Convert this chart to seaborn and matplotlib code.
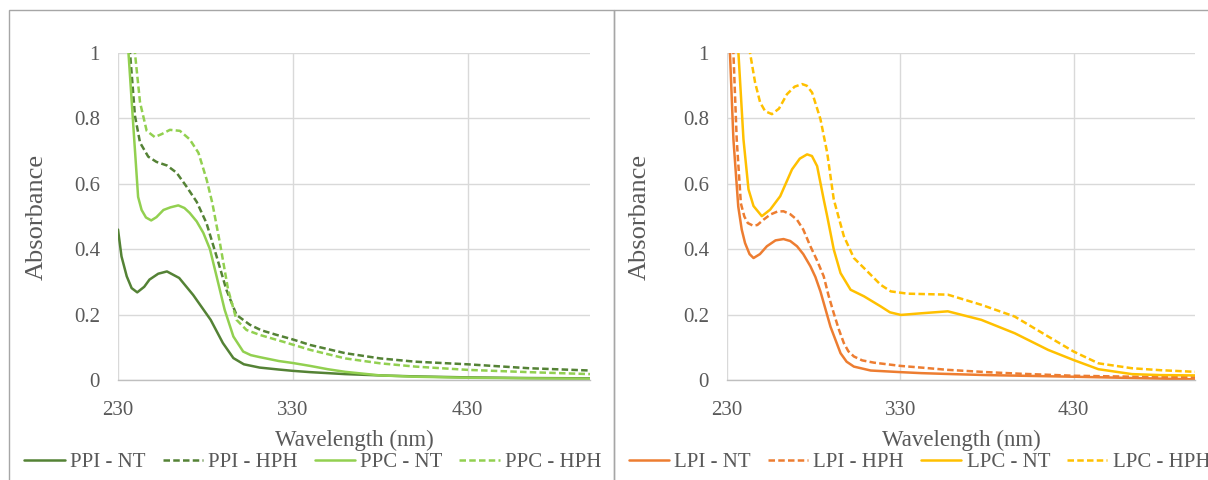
import numpy as np
import pandas as pd
import seaborn as sns
import matplotlib
matplotlib.use("Agg")
import matplotlib.pyplot as plt
from matplotlib.patches import Rectangle

# ---------- data (wavelength nm, absorbance) ----------
ppi_nt_wl = [230, 232, 235, 237.8, 241, 245, 248, 253, 258, 265, 273, 283, 290, 296, 302,
             311, 322, 330, 340, 360, 380, 400, 430, 465, 500]
ppi_nt_abs = [0.46, 0.378, 0.317, 0.281, 0.268, 0.285, 0.307, 0.325, 0.332, 0.312, 0.26, 0.184,
              0.113, 0.067, 0.048, 0.038, 0.032, 0.028, 0.024, 0.018, 0.014, 0.011, 0.008, 0.006, 0.005]

ppi_hph_wl = [230, 233, 236.9, 239.7, 242.6, 247.3, 252, 258, 263.5, 269, 275, 280.6, 286.4,
              292, 297.8, 305.4, 312, 320.7, 330, 340, 360, 380, 400, 430, 465, 500]
ppi_hph_abs = [1.8, 1.35, 1.0, 0.808, 0.726, 0.683, 0.667, 0.656, 0.634, 0.593, 0.545, 0.48, 0.378,
               0.276, 0.199, 0.169, 0.152, 0.138, 0.124, 0.107, 0.082, 0.066, 0.056, 0.048, 0.036, 0.029]

ppc_nt_wl = [230, 233, 236, 238.6, 241.5, 243.5, 246, 249, 252, 256, 260, 264.5, 268, 271, 275,
             278.8, 282.6, 286.4, 291, 296, 301.6, 306, 311, 322, 330, 340, 350, 360, 380, 400,
             430, 465, 500]
ppc_nt_abs = [1.6, 1.25, 1.0, 0.79, 0.56, 0.52, 0.497, 0.488, 0.498, 0.52, 0.528, 0.534, 0.526,
              0.511, 0.485, 0.45, 0.40, 0.317, 0.215, 0.133, 0.087, 0.076, 0.07, 0.058, 0.052,
              0.043, 0.033, 0.025, 0.014, 0.01, 0.007, 0.005, 0.004]

ppc_hph_wl = [230, 235, 239.7, 242.6, 246.4, 251, 255, 259.7, 265.4, 271, 276, 280.7, 284, 288.3,
              293, 297.8, 303.5, 311, 324.5, 340, 360, 380, 400, 430, 465, 500]
ppc_hph_abs = [2.0, 1.4, 1.0, 0.849, 0.762, 0.743, 0.752, 0.765, 0.762, 0.736, 0.695, 0.613, 0.54,
               0.419, 0.276, 0.184, 0.153, 0.138, 0.117, 0.092, 0.066, 0.051, 0.041, 0.031, 0.024, 0.018]

lpi_nt_wl = [230, 231.7, 233.7, 236.5, 238.5, 240.4, 243, 245.3, 249, 253, 258, 262.6, 266.5,
             270.4, 274, 278.1, 281, 283.9, 289.7, 295.5, 299, 303.2, 312.9, 330.3, 342, 360,
             380, 400, 430, 465, 500]
lpi_nt_abs = [1.2, 1.0, 0.736, 0.53, 0.46, 0.419, 0.385, 0.373, 0.385, 0.409, 0.427, 0.431, 0.425,
              0.409, 0.385, 0.348, 0.315, 0.271, 0.163, 0.082, 0.056, 0.041, 0.029, 0.024, 0.021,
              0.018, 0.015, 0.013, 0.01, 0.006, 0.002]

lpi_hph_wl = [230, 233.7, 235.6, 238, 240, 242, 245, 247.5, 251, 255, 259, 262.6, 266.5, 270.4,
              274, 278.1, 282, 285.8, 288.5, 291.6, 294.5, 297.4, 300, 303.2, 308, 314.8, 330.3,
              342, 357.4, 380, 400, 430, 465, 500]
lpi_hph_abs = [1.35, 1.0, 0.736, 0.54, 0.50, 0.48, 0.472, 0.474, 0.49, 0.506, 0.515, 0.516, 0.507,
               0.49, 0.46, 0.409, 0.365, 0.317, 0.26, 0.204, 0.155, 0.113, 0.088, 0.072, 0.06,
               0.053, 0.043, 0.038, 0.031, 0.024, 0.019, 0.013, 0.01, 0.008]

lpc_nt_wl = [230, 233, 236.6, 239.5, 242.4, 245.3, 250.1, 254.9, 260.7, 267.5, 272, 276.2, 279,
             282, 285.8, 287.8, 291.6, 295.5, 301.3, 309, 318.7, 324, 330.3, 342, 357.4, 376.7,
             396, 415.3, 430, 444.3, 463.6, 480, 500]
lpc_nt_abs = [1.5, 1.25, 1.0, 0.736, 0.583, 0.532, 0.501, 0.521, 0.562, 0.644, 0.677, 0.69, 0.685,
              0.654, 0.552, 0.501, 0.399, 0.327, 0.276, 0.256, 0.225, 0.207, 0.199, 0.204, 0.21,
              0.184, 0.143, 0.092, 0.061, 0.033, 0.018, 0.015, 0.014]

lpc_hph_wl = [230, 237, 243.3, 246.2, 249.1, 252, 255.9, 260, 264.6, 269, 273.3, 276, 279.1, 283.9,
              287.8, 291.6, 297.4, 303.2, 311, 318.7, 324.5, 334.2, 357.4, 376.7, 396, 415.3, 430,
              444.3, 463.6, 480, 500]
lpc_hph_abs = [2.2, 1.5, 1.0, 0.91, 0.849, 0.822, 0.813, 0.83, 0.874, 0.897, 0.905, 0.9, 0.879,
               0.798, 0.695, 0.552, 0.44, 0.373, 0.332, 0.291, 0.271, 0.264, 0.261, 0.23, 0.194,
               0.133, 0.087, 0.051, 0.036, 0.03, 0.025]

left_names = ["PPI - NT", "PPI - HPH", "PPC - NT", "PPC - HPH"]
right_names = ["LPI - NT", "LPI - HPH", "LPC - NT", "LPC - HPH"]
x_ticks = [230, 330, 430]
y_ticks = [0, 0.2, 0.4, 0.6, 0.8, 1]
y_tick_labels = ["0", "0.2", "0.4", "0.6", "0.8", "1"]

left_colors = {"PPI - NT": "#548235", "PPI - HPH": "#548235", "PPC - NT": "#92d050", "PPC - HPH": "#92d050"}
right_colors = {"LPI - NT": "#ed7d31", "LPI - HPH": "#ed7d31", "LPC - NT": "#ffc000", "LPC - HPH": "#ffc000"}
dash = (2.6, 1.3)
left_dashes = {"PPI - NT": "", "PPI - HPH": dash, "PPC - NT": "", "PPC - HPH": dash}
right_dashes = {"LPI - NT": "", "LPI - HPH": dash, "LPC - NT": "", "LPC - HPH": dash}


def spectra_frame(names, wls, vals):
    parts = []
    for n, w, v in zip(names, wls, vals):
        parts.append(pd.DataFrame({"wl": w, "abs": v, "series": n}))
    return pd.concat(parts, ignore_index=True)


df_left = spectra_frame(left_names, [ppi_nt_wl, ppi_hph_wl, ppc_nt_wl, ppc_hph_wl],
                        [ppi_nt_abs, ppi_hph_abs, ppc_nt_abs, ppc_hph_abs])
df_right = spectra_frame(right_names, [lpi_nt_wl, lpi_hph_wl, lpc_nt_wl, lpc_hph_wl],
                         [lpi_nt_abs, lpi_hph_abs, lpc_nt_abs, lpc_hph_abs])

sns.set_theme(style="white")
plt.rcParams['font.family'] = ['Liberation Serif', 'DejaVu Serif']
text_col = "#595959"

W, H = 1208, 480
fig = plt.figure(figsize=(W / 100, H / 100), dpi=100)
fig.patch.set_facecolor("white")

# panel borders
fig.patches.append(Rectangle((9 / W, -0.05), (614 - 9) / W, 1.05 - 10 / H, transform=fig.transFigure,
                             fill=False, ec="#a6a6a6", lw=1))
fig.patches.append(Rectangle((614 / W, -0.05), 0.5, 1.05 - 10 / H, transform=fig.transFigure,
                             fill=False, ec="#a6a6a6", lw=1))

ax1 = fig.add_axes([118 / W, 100 / H, 472 / W, 327 / H])
ax2 = fig.add_axes([727 / W, 100 / H, 468 / W, 327 / H])


def style_axis(ax, lab_x):
    ax.set_xlim(230, 500)
    ax.set_ylim(0, 1)
    ax.set_xticks(x_ticks)
    ax.set_yticks(y_ticks)
    ax.set_yticklabels(y_tick_labels)
    ax.grid(True, color="#d9d9d9", lw=1)
    ax.set_axisbelow(True)
    for s in ["left", "top", "right"]:
        ax.spines[s].set_visible(False)
    ax.spines["bottom"].set_color("#bfbfbf")
    ax.spines["bottom"].set_linewidth(1)
    ax.tick_params(axis="both", length=0, labelsize=15, labelcolor=text_col)
    ax.tick_params(axis="y", pad=13)
    ax.tick_params(axis="x", pad=15)
    ax.set_xlabel("Wavelength (nm)", fontsize=16.5, color=text_col, labelpad=7)
    ax.set_ylabel("Absorbance", fontsize=19, color=text_col, va="center")
    ax.yaxis.set_label_coords(lab_x, 0.5)
    ax.set_facecolor("white")


for ax, df, names, pal, dsh, lab_x, leg_x in [
        (ax1, df_left, left_names, left_colors, left_dashes, (37 - 118) / 472, 12 / W),
        (ax2, df_right, right_names, right_colors, right_dashes, (640 - 727) / 468, 616 / W)]:
    sns.lineplot(data=df, x="wl", y="abs", hue="series", style="series", hue_order=names,
                 style_order=names, palette=pal, dashes=dsh, estimator=None, lw=1.8,
                 legend=False, ax=ax)
    style_axis(ax, lab_x)
    handles = ax.get_lines()[:4]
    fig.legend(handles, names, loc="center left", bbox_to_anchor=(leg_x, 1 - 462 / H),
               ncol=4, frameon=False, fontsize=15, handlelength=1.95, handletextpad=0.25,
               columnspacing=0.8, borderpad=0.1, labelcolor=text_col)

fig.savefig("out.png", dpi=100, facecolor="white")
